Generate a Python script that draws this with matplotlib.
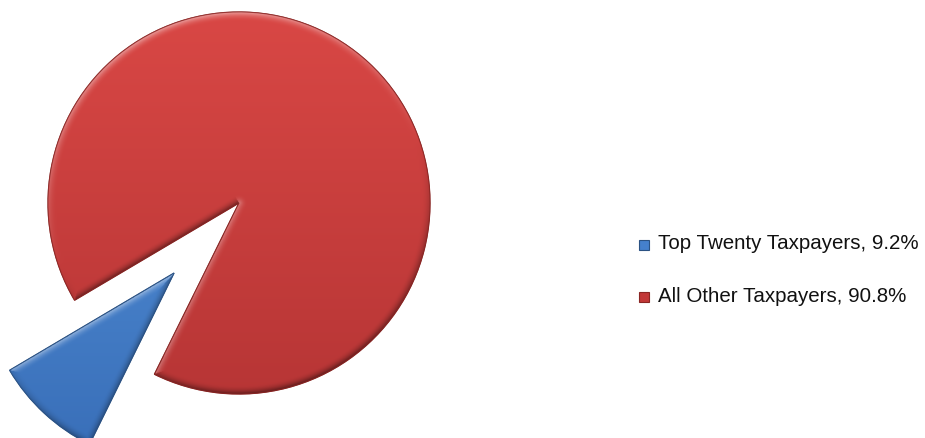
import numpy as np
import matplotlib
matplotlib.use("Agg")
import matplotlib.pyplot as plt
from matplotlib.patches import Rectangle, Wedge

# ---- data ----
labels = ["Top Twenty Taxpayers", "All Other Taxpayers"]
shares = [9.2, 90.8]
legend_text = ["Top Twenty Taxpayers, 9.2%", "All Other Taxpayers, 90.8%"]

# ---- style ----
top_colors = [(0.33, 0.57, 0.85), (0.85, 0.28, 0.27)]
bottom_colors = [(0.22, 0.43, 0.72), (0.72, 0.21, 0.21)]
marker_colors = [(0.27, 0.50, 0.80), (0.76, 0.22, 0.22)]
edge_colors = ["#2b5283", "#8a2624"]
explode = [0.5, 0.0]

W, H = 925, 439
cx, cy, R = 239, 204, 191          # pie centre / radius in pixels (from top-left)

fig = plt.figure(figsize=(W / 100, H / 100), dpi=100)
ax = fig.add_axes([0, 0, 1, 1])

wedges, _ = ax.pie(shares, explode=explode, startangle=210.6,
                   counterclock=True, radius=1.0,
                   wedgeprops=dict(linewidth=0.9))

# map data units to pixels 1:R on both axes
ax.set_xlim(-cx / R, (W - cx) / R)
ax.set_ylim(-(H - cy) / R, cy / R)
ax.set_aspect("auto")
ax.axis("off")

light = np.array([-0.35, 1.0])
light = light / np.linalg.norm(light)


def shaded_wedge(wedge, ctop, cbot, bevel=0.045, strength=0.45):
    c = np.array(wedge.center)
    r0 = wedge.r
    t1, t2 = np.deg2rad(wedge.theta1), np.deg2rad(wedge.theta2)
    x0, x1 = c[0] - r0, c[0] + r0
    y0, y1 = c[1] - r0, c[1] + r0
    n = 500
    xs = np.linspace(x0, x1, n)
    ys = np.linspace(y1, y0, n)
    X, Y = np.meshgrid(xs, ys)
    dx, dy = X - c[0], Y - c[1]
    rr = np.hypot(dx, dy)
    ang = np.mod(np.arctan2(dy, dx) - t1, 2 * np.pi)
    span = t2 - t1
    # distances to the three boundaries
    d_arc = r0 - rr
    a1 = ang
    a2 = span - ang
    d_e1 = np.where(a1 < np.pi / 2, rr * np.sin(np.clip(a1, 0, np.pi / 2)), rr)
    d_e2 = np.where(a2 < np.pi / 2, rr * np.sin(np.clip(a2, 0, np.pi / 2)), rr)
    # outward normals
    ga = np.arctan2(dy, dx)
    n_arc = np.stack([np.cos(ga), np.sin(ga)], -1)
    n_e1 = np.array([np.cos(t1 - np.pi / 2), np.sin(t1 - np.pi / 2)])
    n_e2 = np.array([np.cos(t2 + np.pi / 2), np.sin(t2 + np.pi / 2)])
    d = np.stack([d_arc, d_e1, d_e2], -1)
    idx = np.argmin(d, -1)
    dmin = np.min(d, -1)
    normals = np.where(idx[..., None] == 0, n_arc,
                       np.where(idx[..., None] == 1, n_e1, n_e2))
    lit = normals @ light
    fall = np.clip(1 - dmin / bevel, 0, 1) ** 2
    f = strength * lit * fall
    # vertical base gradient
    tt = ((Y - y0) / (y1 - y0))[..., None]
    base = np.array(cbot) * (1 - tt) + np.array(ctop) * tt
    f3 = f[..., None]
    img = np.where(f3 > 0, base + (1 - base) * f3, base * (1 + f3))
    img = np.clip(img, 0, 1)
    im = ax.imshow(img, extent=[x0, x1, y0, y1], origin="upper",
                   interpolation="bilinear", zorder=2)
    im.set_clip_path(wedge)


for w, ct, cb, ec in zip(wedges, top_colors, bottom_colors, edge_colors):
    w.set_facecolor(cb)
    w.set_edgecolor(ec)
    w.set_zorder(1)
    w.set_clip_on(False)
    shaded_wedge(w, ct, cb)
    outline = Wedge(w.center, w.r, w.theta1, w.theta2,
                    facecolor="none", edgecolor=ec,
                    linewidth=0.7, alpha=0.7, zorder=3)
    ax.add_patch(outline)

# ---- legend ----
rows_y = [246, 298]
mark_x, mark_s = 639, 10
text_x = 658
for i, (txt, mc, ec) in enumerate(zip(legend_text, marker_colors, edge_colors)):
    yc = rows_y[i]
    sq = Rectangle((mark_x / W, 1 - (yc + mark_s / 2) / H), mark_s / W, mark_s / H,
                   transform=fig.transFigure, facecolor=mc,
                   edgecolor=ec, linewidth=0.8)
    fig.patches.append(sq)
    fig.text(text_x / W, 1 - (yc - 2) / H, txt, fontsize=14.8,
             family=["Liberation Sans", "DejaVu Sans"], color="#111111",
             va="center", ha="left")

fig.savefig("out.png", dpi=100)
